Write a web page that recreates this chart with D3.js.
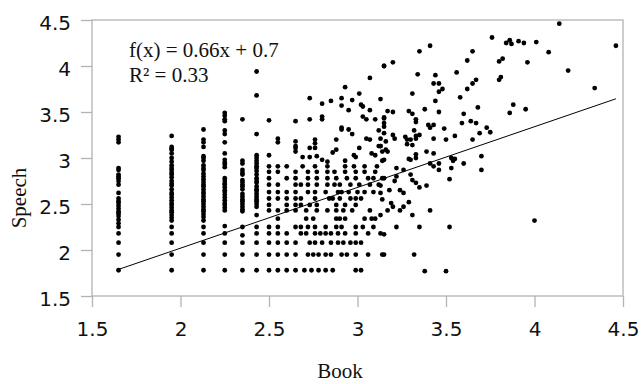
<!DOCTYPE html>
<html>
<head>
<meta charset="utf-8">
<script src="https://cdn.jsdelivr.net/npm/d3@7"></script>
<style>
  body { margin: 0; background: #fff; }
  .tick text { font-family: "DejaVu Sans", sans-serif; font-size: 20px; fill: #111; }
  .serif { font-family: "Liberation Serif", serif; fill: #111; }
</style>
</head>
<body>
<div id="chart"></div>
<script>
// Book (x) vs Speech (y) scatter with linear trend line

const xTicks = [1.5, 2, 2.5, 3, 3.5, 4, 4.5];
const yTicks = [1.5, 2, 2.5, 3, 3.5, 4, 4.5];

// the lower Book scores come in fixed columns
const columnX = [1.65, 1.95, 2.13, 2.25, 2.35, 2.43];
const columnY = [
  [3.23, 3.20, 3.17, 2.89, 2.87, 2.82, 2.80, 2.78, 2.75, 2.71, 2.62, 2.56, 2.53, 2.51, 2.48, 2.45, 2.42, 2.40, 2.37, 2.33, 2.29, 2.25, 2.18, 2.08, 1.95, 1.78],
  [3.24, 3.12, 3.10, 3.09, 3.05, 3.00, 2.96, 2.92, 2.89, 2.87, 2.84, 2.82, 2.79, 2.75, 2.72, 2.70, 2.66, 2.62, 2.60, 2.57, 2.54, 2.51, 2.49, 2.46, 2.43, 2.41, 2.38, 2.35, 2.32, 2.25, 2.18, 2.08, 1.95, 1.78],
  [3.31, 3.20, 3.17, 3.12, 3.02, 3.00, 2.97, 2.92, 2.89, 2.87, 2.83, 2.80, 2.77, 2.74, 2.71, 2.69, 2.66, 2.63, 2.61, 2.58, 2.55, 2.53, 2.50, 2.47, 2.44, 2.42, 2.39, 2.36, 2.32, 2.25, 2.18, 2.08, 1.95, 1.78],
  [3.49, 3.46, 3.42, 3.40, 3.30, 3.26, 3.17, 3.05, 2.98, 2.95, 2.93, 2.90, 2.78, 2.75, 2.72, 2.71, 2.68, 2.65, 2.63, 2.60, 2.57, 2.54, 2.51, 2.49, 2.46, 2.43, 2.26, 2.18, 2.08, 1.95, 1.78],
  [3.42, 2.97, 2.94, 2.87, 2.84, 2.82, 2.76, 2.74, 2.71, 2.69, 2.66, 2.61, 2.58, 2.55, 2.53, 2.50, 2.47, 2.44, 2.42, 2.25, 2.16, 2.08, 1.95, 1.78],
  [3.94, 3.68, 3.26, 3.03, 3.00, 2.97, 2.94, 2.91, 2.89, 2.86, 2.82, 2.78, 2.75, 2.73, 2.69, 2.66, 2.64, 2.61, 2.58, 2.55, 2.53, 2.50, 2.47, 2.38, 2.25, 2.18, 2.08, 1.95, 1.78]
];

// lower Speech scores come in fixed rows (middle of the cloud)
const rowY = [1.78, 1.95, 2.08, 2.18, 2.25, 2.34, 2.43, 2.49, 2.56, 2.63, 2.71, 2.78, 2.85, 2.91];
const rowX = [
  [2.50, 2.55, 2.60, 2.65, 2.70, 2.74, 2.78, 2.82, 2.86, 2.99, 3.02],
  [2.50, 2.55, 2.60, 2.65, 2.72, 2.75, 2.78, 2.82, 2.85, 2.91, 2.94, 2.99, 3.06],
  [2.50, 2.55, 2.60, 2.65, 2.73, 2.76, 2.80, 2.85, 2.89, 2.92, 2.96, 2.99, 3.02],
  [2.50, 2.55, 2.60, 2.68, 2.71, 2.76, 2.79, 2.82, 2.85, 2.89, 2.93, 2.99, 3.06, 3.13],
  [2.50, 2.55, 2.65, 2.68, 2.72, 2.76, 2.82, 2.88, 2.91, 2.99, 3.03, 3.09],
  [2.55, 2.71, 2.75, 2.88, 2.90, 2.93, 3.04, 3.08, 3.10],
  [2.50, 2.55, 2.60, 2.65, 2.71, 2.77, 2.83, 2.88, 2.92, 2.97, 3.07],
  [2.50, 2.60, 2.65, 2.68, 2.73, 2.77, 2.88, 2.93, 2.99],
  [2.50, 2.55, 2.60, 2.65, 2.68, 2.76, 2.84, 2.86, 2.90, 2.96, 2.99, 3.02],
  [2.50, 2.55, 2.60, 2.65, 2.72, 2.76, 2.82, 2.89, 2.91, 2.95, 3.00, 3.04, 3.09],
  [2.50, 2.55, 2.65, 2.68, 2.72, 2.77, 2.83, 2.87, 2.90, 2.96, 3.01, 3.07, 3.12],
  [2.50, 2.60, 2.65, 2.72, 2.77, 2.83, 2.88, 2.94, 2.99, 3.06, 3.09, 3.14],
  [2.50, 2.55, 2.65, 2.72, 2.77, 2.83, 2.87, 2.93, 2.99, 3.04, 3.10],
  [2.50, 2.55, 2.60, 2.69, 2.76, 2.83, 2.93, 2.98, 3.04, 3.11]
];

// the rest of the points, [book, speech]
const scatterPts = [
  [2.50, 3.41], [2.65, 3.40], [2.73, 3.65], [2.73, 3.42], [2.80, 3.59], [2.80, 3.45], [2.80, 3.42],
  [2.85, 3.62], [2.91, 3.65], [2.91, 3.57], [2.93, 3.77], [2.95, 3.52], [2.97, 3.63], [3.01, 3.70],
  [3.02, 3.58], [3.03, 3.56], [3.07, 3.87], [3.07, 3.52], [3.03, 3.45], [3.05, 3.42], [3.10, 3.42],
  [3.15, 4.00], [3.15, 3.43], [2.55, 3.21], [2.55, 3.17], [2.65, 3.18], [2.65, 3.13], [2.65, 3.11],
  [2.65, 3.07], [2.76, 3.20], [2.76, 3.16], [2.76, 3.11], [2.73, 3.11], [2.50, 3.03], [2.88, 3.20],
  [2.91, 3.33], [2.91, 3.31], [2.95, 3.31], [2.97, 3.26], [3.05, 3.21], [3.07, 3.20], [3.12, 3.30],
  [3.13, 3.21], [3.12, 3.13], [3.13, 3.13], [3.01, 3.11], [2.98, 3.03], [2.99, 3.01], [2.93, 2.97],
  [2.88, 3.09], [2.86, 3.06], [2.83, 2.96], [2.80, 2.98], [2.77, 3.02], [2.73, 3.01], [2.69, 3.01],
  [3.08, 3.05], [3.10, 3.03], [3.14, 2.97],
  [3.15, 4.00], [3.20, 4.04], [3.41, 4.22], [3.35, 4.16], [3.76, 4.31], [3.84, 4.25], [3.86, 4.28],
  [3.65, 4.16], [3.62, 4.06], [3.80, 4.05], [3.82, 4.08], [3.34, 3.91], [3.44, 3.90], [3.43, 3.81],
  [3.46, 3.81], [3.46, 3.72], [3.48, 3.75], [3.56, 3.93], [3.62, 3.75], [3.65, 3.81], [3.67, 3.85],
  [3.80, 3.85], [3.81, 3.88], [3.31, 3.70], [3.13, 3.64], [3.44, 3.62], [3.58, 3.66], [3.17, 3.51],
  [3.20, 3.50], [3.29, 3.51], [3.31, 3.48], [3.33, 3.42], [3.33, 3.39], [3.38, 3.53], [3.46, 3.50],
  [3.68, 3.55], [3.86, 3.49], [3.15, 3.44], [3.15, 3.38], [3.15, 3.34], [3.60, 3.48], [3.59, 3.38],
  [3.64, 3.40], [3.67, 3.38], [3.40, 3.36], [3.41, 3.33], [3.43, 3.36], [3.49, 3.32], [3.73, 3.33],
  [3.75, 3.28], [3.32, 3.30], [3.15, 3.27], [3.20, 3.25], [3.21, 3.21], [3.27, 3.23], [3.28, 3.20],
  [3.30, 3.20], [3.33, 3.24], [3.35, 3.25], [3.43, 3.21], [3.50, 3.20], [3.55, 3.24], [3.65, 3.20],
  [3.69, 3.27], [3.16, 3.18], [3.13, 3.13], [3.16, 3.09], [3.17, 3.07], [3.28, 3.15], [3.31, 3.14],
  [3.33, 3.21], [3.33, 3.04], [3.39, 3.07], [3.43, 3.05], [3.14, 3.07],
  [3.91, 4.27], [3.94, 4.25], [4.01, 4.26], [4.08, 4.15], [4.14, 4.46], [4.46, 4.22], [3.96, 4.04],
  [4.19, 3.95], [4.34, 3.76], [3.88, 3.58], [3.95, 3.53], [3.87, 4.24],
  [3.15, 2.98], [3.29, 2.99], [3.30, 2.98], [3.33, 3.00], [3.41, 2.94], [3.43, 2.91], [3.46, 2.94],
  [3.46, 2.87], [3.53, 2.89], [3.53, 3.00], [3.54, 2.97], [3.55, 2.99], [3.60, 2.94], [3.70, 3.02],
  [3.70, 2.87], [3.22, 2.89], [3.26, 2.87], [3.15, 2.78], [3.21, 2.75], [3.22, 2.80], [3.30, 2.82],
  [3.31, 2.76], [3.33, 2.73], [3.35, 2.68], [3.39, 2.70], [3.52, 2.77], [3.13, 2.70], [3.18, 2.65],
  [3.13, 2.62], [3.24, 2.65], [3.26, 2.62], [3.14, 2.55], [3.19, 2.51], [3.20, 2.47], [3.17, 2.43],
  [3.24, 2.43], [3.26, 2.47], [3.29, 2.52], [3.13, 2.38], [3.31, 2.38], [3.41, 2.43], [3.22, 2.25],
  [3.35, 2.25], [3.52, 2.25], [3.15, 2.17], [3.14, 1.95], [3.15, 1.95], [3.32, 1.95], [3.38, 1.77],
  [3.50, 1.77], [4.00, 2.32]
];

// trend line as printed on the chart
const slope = 0.66;
const intercept = 0.7;
const rSquared = 0.33;

const width = 642, height = 384;
const margin = { top: 20, right: 19, bottom: 88, left: 92 };

const svg = d3.select("#chart").append("svg")
  .attr("width", width)
  .attr("height", height);

const xScale = d3.scaleLinear()
  .domain([1.5, 4.5])
  .range([margin.left, width - margin.right]);

const yScale = d3.scaleLinear()
  .domain([1.5, 4.5])
  .range([height - margin.bottom, margin.top]);

// flatten everything into one point list
const points = [];
columnX.forEach((x, i) => columnY[i].forEach(y => points.push([x, y])));
rowY.forEach((y, i) => rowX[i].forEach(x => points.push([x, y])));
scatterPts.forEach(p => points.push(p));

// frame
svg.append("rect")
  .attr("x", xScale(1.5))
  .attr("y", yScale(4.5))
  .attr("width", xScale(4.5) - xScale(1.5))
  .attr("height", yScale(1.5) - yScale(4.5))
  .attr("fill", "none")
  .attr("stroke", "#b3b3b3")
  .attr("stroke-width", 1.3);

// Y axis
const yAxis = svg.append("g")
  .attr("transform", "translate(" + margin.left + ",0)")
  .call(d3.axisLeft(yScale).tickValues(yTicks).tickFormat(d => String(d)).tickSize(11).tickSizeOuter(0).tickPadding(10));

// X axis
const xAxis = svg.append("g")
  .attr("transform", "translate(0," + (height - margin.bottom) + ")")
  .call(d3.axisBottom(xScale).tickValues(xTicks).tickFormat(d => String(d)).tickSize(11).tickSizeOuter(0).tickPadding(15));

[xAxis, yAxis].forEach(ax => {
  ax.select(".domain").remove();
  ax.selectAll(".tick line").attr("stroke", "#b3b3b3").attr("stroke-width", 1.3);
});
yAxis.selectAll(".tick text").attr("dy", "0.45em");

// points
svg.append("g")
  .selectAll("circle")
  .data(points)
  .enter()
  .append("circle")
  .attr("cx", d => xScale(d[0]))
  .attr("cy", d => yScale(d[1]))
  .attr("r", 2.4)
  .attr("fill", "#000");

// trend line across the data range
const xExtent = d3.extent(points, d => d[0]);
svg.append("line")
  .attr("x1", xScale(xExtent[0]))
  .attr("y1", yScale(slope * xExtent[0] + intercept))
  .attr("x2", xScale(xExtent[1]))
  .attr("y2", yScale(slope * xExtent[1] + intercept))
  .attr("stroke", "#000")
  .attr("stroke-width", 1);

// equation text
svg.append("text")
  .attr("class", "serif")
  .attr("x", 129)
  .attr("y", 57)
  .style("font-size", "21px")
  .text("f(x) = " + slope + "x + " + intercept);

svg.append("text")
  .attr("class", "serif")
  .attr("x", 129)
  .attr("y", 82)
  .style("font-size", "21px")
  .text("R² = " + rSquared);

// axis titles
svg.append("text")
  .attr("class", "serif")
  .attr("text-anchor", "middle")
  .attr("x", 340)
  .attr("y", 378)
  .style("font-size", "21px")
  .text("Book");

svg.append("text")
  .attr("class", "serif")
  .attr("text-anchor", "middle")
  .attr("transform", "translate(26,198) rotate(-90)")
  .style("font-size", "21px")
  .text("Speech");
</script>
</body>
</html>
